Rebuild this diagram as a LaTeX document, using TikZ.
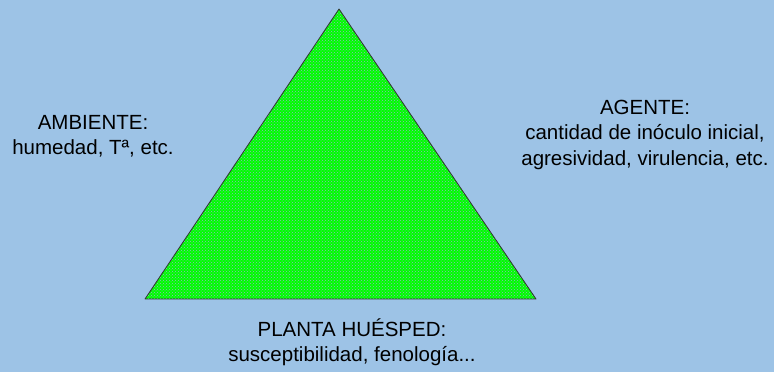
\documentclass[tikz,border=0pt]{standalone}
\usepackage{fontspec}
\setmainfont{Liberation Sans}
\usetikzlibrary{patterns, positioning}
\definecolor{skyback}{RGB}{157,195,230}
\definecolor{leafgreen}{RGB}{0,255,0}

\begin{document}
\begin{tikzpicture}[
      x=1pt, y=1pt,
      label/.style={font=\fontsize{20.5}{25}\selectfont,
                    text=black, inner sep=0pt, anchor=base},
      nextline/.style={label, below=#1, anchor=base}
  ]
      % background
      \fill[skyback] (0,0) rectangle (774,372);
      \useasboundingbox (0,0) rectangle (774,372);

      % triangle
      \coordinate (top)   at (339,363);
      \coordinate (left)  at (145,73);
      \coordinate (right) at (536,73);
      \fill[leafgreen] (top) -- (left) -- (right) -- cycle;
      \path[pattern=crosshatch dots, pattern color=skyback!70!gray]
          (top) -- (left) -- (right) -- cycle;
      \draw[black!80, line width=0.8pt, line join=round]
          (top) -- (left) -- (right) -- cycle;

      % labels
      \node (ambiente) [label] at (93,242) {AMBIENTE:};
      \node (ambtext)  [nextline=25pt of ambiente.base] {humedad, Tª, etc.};

      \node (agente)  [label] at (645,257) {AGENTE:};
      \node (agtext1) [nextline=25pt of agente.base] {cantidad de inóculo inicial,};
      \node (agtext2) [nextline=26pt of agtext1.base] {agresividad, virulencia, etc.};

      \node (planta)  [label] at (352,35) {PLANTA HUÉSPED:};
      \node (pltext)  [nextline=25pt of planta.base] {susceptibilidad, fenología...};
  \end{tikzpicture}
\end{document}
